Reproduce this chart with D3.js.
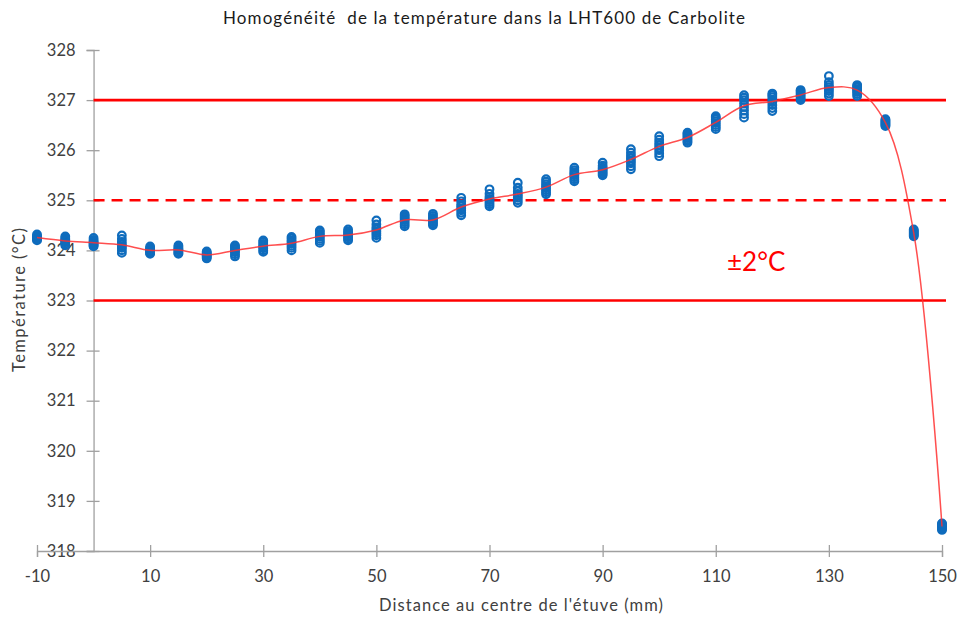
<!DOCTYPE html>
<html><head><meta charset="utf-8">
<script src="https://cdn.jsdelivr.net/npm/d3@7"></script>
<style>
html,body{margin:0;padding:0;background:#fff;}
svg{display:block;font-family:Lato,"Open Sans",sans-serif;}
</style></head><body>
<svg id="chart" width="958" height="619"></svg>
<script>
// ---- data ----
const positions = [-10,-5,0,5,10,15,20,25,30,35,40,45,50,55,60,65,70,75,80,85,90,95,100,105,110,115,120,125,130,135,140,145,150];
const readings = [
 [324.20,324.22,324.24,324.25,324.26,324.27,324.29,324.32],
 [324.10,324.13,324.16,324.18,324.20,324.22,324.25,324.28],
 [324.08,324.10,324.12,324.14,324.16,324.18,324.21,324.25],
 [323.95,324.00,324.05,324.08,324.12,324.17,324.23,324.30],
 [323.93,323.95,323.97,323.99,324.01,324.03,324.05,324.08],
 [323.93,323.95,323.97,324.00,324.02,324.04,324.07,324.10],
 [323.84,323.86,323.88,323.90,323.92,323.94,323.96,323.98],
 [323.88,323.92,323.96,323.99,324.02,324.05,324.08,324.10],
 [323.97,324.00,324.04,324.07,324.10,324.13,324.17,324.20],
 [324.00,324.05,324.09,324.13,324.17,324.20,324.24,324.27],
 [324.15,324.19,324.23,324.27,324.30,324.33,324.37,324.40],
 [324.20,324.23,324.26,324.29,324.32,324.35,324.38,324.42],
 [324.25,324.30,324.34,324.38,324.42,324.46,324.52,324.60],
 [324.48,324.52,324.56,324.60,324.63,324.66,324.69,324.72],
 [324.50,324.53,324.56,324.59,324.62,324.65,324.69,324.73],
 [324.70,324.75,324.80,324.84,324.88,324.92,324.98,325.05],
 [324.88,324.92,324.96,325.00,325.03,325.07,325.13,325.22],
 [324.95,325.00,325.05,325.09,325.13,325.18,325.25,325.35],
 [325.12,325.16,325.20,325.24,325.28,325.32,325.37,325.42],
 [325.38,325.42,325.46,325.50,325.53,325.56,325.60,325.65],
 [325.50,325.53,325.56,325.59,325.62,325.65,325.69,325.75],
 [325.62,325.68,325.74,325.79,325.84,325.89,325.95,326.02],
 [325.88,325.94,326.00,326.05,326.10,326.15,326.21,326.28],
 [326.15,326.18,326.21,326.24,326.27,326.30,326.33,326.35],
 [326.42,326.46,326.50,326.54,326.58,326.62,326.65,326.68],
 [326.65,326.72,326.79,326.86,326.93,327.00,327.05,327.10],
 [326.78,326.84,326.90,326.96,327.01,327.06,327.10,327.13],
 [327.00,327.03,327.06,327.09,327.12,327.15,327.18,327.20],
 [327.08,327.13,327.18,327.22,327.26,327.30,327.36,327.48],
 [327.08,327.12,327.16,327.19,327.22,327.25,327.28,327.30],
 [326.48,326.50,326.52,326.54,326.56,326.58,326.60,326.62],
 [324.28,324.30,324.32,324.34,324.36,324.38,324.40,324.42],
 [318.42,318.44,318.46,318.48,318.50,318.52,318.54,318.55]
];
const limitLines = [327, 325, 323];
const limitDashed = [false, true, false];
const xTicks = [-10,10,30,50,70,90,110,130,150];
const yTicks = [318,319,320,321,322,323,324,325,326,327,328];
const title = "Homogénéité  de la température dans la LHT600 de Carbolite";
const xTitle = "Distance au centre de l'étuve (mm)";
const yTitle = "Température (°C)";
const note = "±2°C";

// ---- drawing ----
const svg = d3.select("#chart");
const x = d3.scaleLinear().domain([-10,150]).range([37,942]);
const y = d3.scaleLinear().domain([318,328]).range([551,50]);
const axisCol = "#a0a0a0", textCol = "#404040";

// title
svg.append("text").attr("x",484).attr("y",24).attr("text-anchor","middle")
  .attr("font-size",17).attr("fill","#1a1a1a").attr("xml:space","preserve")
  .attr("textLength",522).text(title);

// y axis
const yAx = svg.append("g").attr("transform",`translate(${x(0)},0)`)
  .call(d3.axisLeft(y).tickValues(yTicks).tickSize(7).tickPadding(11).tickFormat(d=>String(d)));
yAx.select(".domain").attr("stroke",axisCol).attr("stroke-width",1.3);
yAx.selectAll(".tick line").attr("stroke",axisCol).attr("stroke-width",1.3).attr("x2",6).attr("x1",-7);
yAx.selectAll(".tick text").attr("fill",textCol).attr("font-size",16.5).attr("font-family","Lato");

// x axis
const xAx = svg.append("g").attr("transform",`translate(0,${y(318)})`)
  .call(d3.axisBottom(x).tickValues(xTicks).tickSize(6).tickPadding(13).tickFormat(d=>String(d)));
xAx.select(".domain").attr("stroke",axisCol).attr("stroke-width",1.3);
xAx.selectAll(".tick line").attr("stroke",axisCol).attr("stroke-width",1.3).attr("y1",-6).attr("y2",6);
xAx.selectAll(".tick text").attr("fill",textCol).attr("font-size",16.5).attr("font-family","Lato");

// axis titles
svg.append("text").attr("x",521).attr("y",611).attr("text-anchor","middle")
  .attr("font-size",16.5).attr("fill",textCol).attr("textLength",284).text(xTitle);
svg.append("text").attr("transform","translate(25,300) rotate(-90)").attr("text-anchor","middle")
  .attr("font-size",16.5).attr("fill",textCol).attr("textLength",144).text(yTitle);

// limit lines
limitLines.forEach((v,i)=>{
  svg.append("line").attr("x1",x(0)).attr("x2",946).attr("y1",y(v)).attr("y2",y(v))
    .attr("stroke","#ff0000").attr("stroke-width",2.6)
    .attr("stroke-dasharray", limitDashed[i] ? "11,7" : null);
});

// points
const pts = [];
positions.forEach((p,i)=>readings[i].forEach(v=>pts.push({p,v})));
svg.append("g").selectAll("circle").data(pts).join("circle")
  .attr("cx",d=>x(d.p)).attr("cy",d=>y(d.v)).attr("r",3.8)
  .attr("fill","none")
  .attr("stroke","#0f6cbd").attr("stroke-width",2.2);

// mean line
const means = positions.map((p,i)=>({p, v:d3.mean(readings[i])}));
svg.append("path").datum(means)
  .attr("d", d3.line().x(d=>x(d.p)).y(d=>y(d.v)).curve(d3.curveCatmullRom.alpha(0.5)))
  .attr("fill","none").attr("stroke","#ff3030").attr("stroke-width",1.5).attr("stroke-opacity",0.85);

// note
svg.append("text").attr("x",727).attr("y",271).attr("font-size",26).attr("fill","#ff0000").text(note);
</script>
</body></html>
